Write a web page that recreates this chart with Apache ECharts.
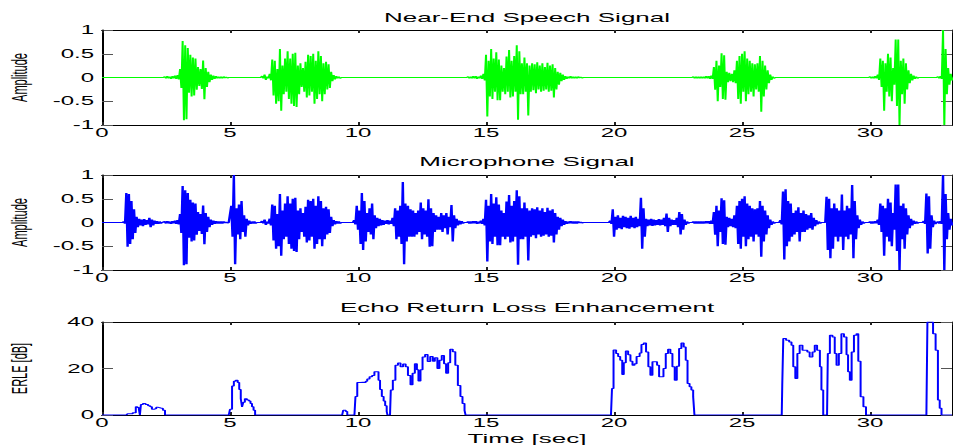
<!DOCTYPE html>
<html>
<head>
<meta charset="utf-8">
<script src="https://cdn.jsdelivr.net/npm/echarts@6/dist/echarts.min.js"></script>
<style>
  html, body { margin: 0; padding: 0; background: #fff; overflow: hidden; }
  /* The figure is laid out at half width and stretched 2x horizontally. */
  #main { width: 476.5px; height: 445px; transform: scaleX(2); transform-origin: 0 0; }
</style>
</head>
<body>
<div id="main"></div>
<script>
// ---- data ---------------------------------------------------------------
const DT = 0.05;           // seconds between successive peak/trough samples
const T_END = 33.2;        // signal length [sec]

const xTicks = [0, 5, 10, 15, 20, 25, 30];
const ampTicks = [-1, -0.5, 0, 0.5, 1];
const erleTicks = [0, 20, 40];

// near-end talker: start time of each utterance, then its samples
const nearStart = [2.45, 6.25, 14.3, 23.1, 30.0, 32.65];
const nearA = [0.02,-0.02, 0.03,-0.02, 0.02,-0.03, 0.03,-0.02, 0.04,-0.03, 0.05,-0.04,
  0.18,-0.22, 0.77,-0.90, 0.68,-0.88, 0.62,-0.32, 0.48,-0.40, 0.42,-0.38, 0.40,-0.26,
  0.22,-0.18, 0.18,-0.24, 0.36,-0.46, 0.20,-0.20, 0.12,-0.10, 0.06,-0.05, 0.04,-0.03,
  0.03,-0.02, 0.02,-0.02, 0.02,-0.02, 0.02,-0.01, 0.01,-0.01];
const nearB = [0.03,-0.02, 0.06,-0.05, 0.02,-0.02, 0.08,-0.06, 0.38,-0.38, 0.35,-0.55,
  0.18,-0.50, 0.60,-0.70, 0.25,-0.35, 0.40,-0.30, 0.55,-0.45, 0.40,-0.55, 0.50,-0.60,
  0.52,-0.62, 0.25,-0.35, 0.30,-0.20, 0.20,-0.30, 0.33,-0.42, 0.48,-0.38, 0.45,-0.30,
  0.50,-0.55, 0.35,-0.45, 0.55,-0.35, 0.45,-0.50, 0.30,-0.35, 0.33,-0.25, 0.28,-0.22,
  0.12,-0.08, 0.05,-0.04, 0.03,-0.02, 0.02,-0.02];
const nearC = [0.02,-0.02, 0.02,-0.02, 0.03,-0.02, 0.03,-0.03, 0.02,-0.02, 0.04,-0.03,
  0.08,-0.06, 0.48,-0.82, 0.35,-0.40, 0.60,-0.45, 0.40,-0.30, 0.53,-0.48, 0.38,-0.48,
  0.25,-0.30, 0.20,-0.35, 0.44,-0.30, 0.58,-0.42, 0.35,-0.40, 0.45,-0.30, 0.68,-0.89,
  0.55,-0.35, 0.30,-0.35, 0.42,-0.30, 0.30,-0.80, 0.25,-0.30, 0.30,-0.27, 0.28,-0.33,
  0.32,-0.25, 0.25,-0.30, 0.30,-0.28, 0.22,-0.25, 0.31,-0.30, 0.25,-0.28, 0.28,-0.42,
  0.20,-0.25, 0.12,-0.15, 0.10,-0.08, 0.06,-0.05, 0.03,-0.03, 0.02,-0.02, 0.03,-0.02,
  0.02,-0.02, 0.02,-0.02, 0.02,-0.01, 0.01,-0.01];
const nearD = [0.02,-0.02, 0.02,-0.02, 0.02,-0.02, 0.02,-0.02, 0.02,-0.02, 0.03,-0.02,
  0.03,-0.03, 0.04,-0.03, 0.22,-0.26, 0.35,-0.50, 0.25,-0.20, 0.51,-0.45, 0.47,-0.47,
  0.12,-0.10, 0.10,-0.08, 0.08,-0.10, 0.15,-0.12, 0.35,-0.45, 0.45,-0.55, 0.50,-0.30,
  0.55,-0.50, 0.40,-0.35, 0.35,-0.30, 0.30,-0.40, 0.28,-0.25, 0.30,-0.30, 0.45,-0.72,
  0.35,-0.40, 0.25,-0.25, 0.15,-0.12, 0.06,-0.05, 0.02,-0.02];
const nearE = [0.02,-0.02, 0.02,-0.02, 0.03,-0.02, 0.06,-0.05, 0.40,-0.20, 0.35,-0.70,
  0.30,-0.30, 0.50,-0.40, 0.42,-0.50, 0.20,-0.15, 0.80,-0.60, 0.80,-1.00, 0.35,-0.35,
  0.40,-0.55, 0.30,-0.25, 0.15,-0.12, 0.08,-0.06, 0.04,-0.03, 0.02,-0.02];
const nearF = [0.02,-0.02, 0.03,-0.03, 1.00,-1.00, 0.60,-0.35, 0.20,-0.15, 0.08,-0.06];

// far-end echo picked up by the microphone
const echoStart = [0.85, 5.05, 9.85, 19.85, 26.5, 28.3, 32.1];
const echo1 = [0.02,-0.02, 0.62,-0.51, 0.60,-0.45, 0.45,-0.35, 0.28,-0.22, 0.12,-0.10,
  0.08,-0.06, 0.06,-0.08, 0.07,-0.05, 0.05,-0.04, 0.10,-0.10, 0.06,-0.06, 0.04,-0.03,
  0.03,-0.03, 0.02,-0.02];
const echo2 = [0.35,-0.30, 1.00,-0.88, 0.30,-0.25, 0.38,-0.35, 0.45,-0.20, 0.15,-0.30,
  0.08,-0.06, 0.04,-0.03, 0.02,-0.02, 0.02,-0.02];
const echo3 = [0.05,-0.04, 0.35,-0.15, 0.25,-0.45, 0.62,-0.58, 0.45,-0.40, 0.20,-0.20,
  0.30,-0.25, 0.40,-0.35, 0.15,-0.12, 0.10,-0.08, 0.08,-0.06, 0.05,-0.05, 0.04,-0.03,
  0.05,-0.04, 0.04,-0.03, 0.10,-0.08, 0.30,-0.35, 0.25,-0.30, 0.35,-0.45, 0.85,-0.88,
  0.40,-0.40, 0.35,-0.30, 0.28,-0.30, 0.25,-0.30, 0.20,-0.25, 0.25,-0.20, 0.42,-0.35,
  0.30,-0.25, 0.25,-0.30, 0.49,-0.51, 0.30,-0.50, 0.20,-0.20, 0.15,-0.15, 0.12,-0.15,
  0.20,-0.20, 0.15,-0.12, 0.20,-0.25, 0.12,-0.10, 0.37,-0.40, 0.15,-0.12, 0.08,-0.06,
  0.04,-0.04, 0.03,-0.02];
const echo4 = [0.04,-0.03, 0.28,-0.30, 0.12,-0.15, 0.15,-0.12, 0.10,-0.14, 0.14,-0.10,
  0.12,-0.12, 0.10,-0.13, 0.14,-0.10, 0.10,-0.12, 0.12,-0.10, 0.08,-0.08, 0.52,-0.55,
  0.30,-0.30, 0.08,-0.08, 0.06,-0.06, 0.08,-0.07, 0.06,-0.06, 0.05,-0.05, 0.07,-0.06,
  0.06,-0.05, 0.10,-0.08, 0.19,-0.20, 0.10,-0.08, 0.06,-0.05, 0.05,-0.05, 0.10,-0.10,
  0.22,-0.25, 0.18,-0.15, 0.06,-0.05, 0.02,-0.02];
const echo5 = [0.05,-0.04, 0.65,-0.78, 0.70,-0.50, 0.45,-0.40, 0.40,-0.30, 0.20,-0.25,
  0.25,-0.20, 0.32,-0.40, 0.20,-0.20, 0.25,-0.20, 0.18,-0.15, 0.15,-0.12, 0.20,-0.15,
  0.10,-0.08, 0.05,-0.04, 0.02,-0.02];
const echo6 = [0.54,-0.58, 0.50,-0.75, 0.30,-0.55, 0.40,-0.30, 0.30,-0.40, 0.25,-0.30,
  0.59,-0.58, 0.25,-0.30, 0.35,-0.35, 0.30,-0.25, 0.79,-0.75, 0.45,-0.35, 0.15,-0.12,
  0.06,-0.05, 0.02,-0.02];
const echo7 = [0.03,-0.03, 0.61,-0.65, 0.55,-0.55, 0.15,-0.10, 0.04,-0.03];

// echo return loss enhancement [sec, dB]
const erle = [
  [0, 0], [0.95, 0], [1.0, 0.5], [1.2, 1], [1.32, 3.6], [1.38, 3.2], [1.44, 2.5], [1.48, 0],
  [1.52, 4.5], [1.6, 5], [1.7, 4.5], [1.8, 4], [1.88, 3.5], [1.95, 2.5], [2.05, 2.8], [2.12, 3.3],
  [2.2, 3], [2.3, 2.8], [2.38, 2], [2.46, 0],
  [4.95, 0], [5.0, 2.5], [5.08, 12.5], [5.15, 14.5], [5.22, 15], [5.3, 14], [5.36, 11], [5.42, 7],
  [5.47, 3.5], [5.52, 5.5], [5.58, 7], [5.66, 6.5], [5.74, 6], [5.8, 5], [5.86, 3.6], [5.92, 2],
  [5.98, 0],
  [9.38, 0], [9.42, 2], [9.52, 1.5], [9.58, 0], [9.86, 0], [9.9, 8], [9.97, 14], [10.08, 14.1],
  [10.2, 14], [10.3, 14.5], [10.36, 15.5], [10.45, 16.5], [10.55, 17], [10.64, 18.6], [10.74, 18.6],
  [10.8, 15], [10.86, 11], [10.93, 8], [11.0, 6], [11.06, 4], [11.12, 1.5], [11.15, 0], [11.25, 0],
  [11.28, 10.7], [11.36, 15], [11.46, 21.4], [11.56, 22.4], [11.66, 20.7], [11.76, 21.9],
  [11.86, 20.7], [11.95, 17], [12.05, 13], [12.13, 18], [12.22, 22], [12.3, 19.5], [12.36, 14.6],
  [12.44, 19.5], [12.52, 25], [12.62, 26], [12.72, 23], [12.82, 25.2], [12.92, 23.1], [13.0, 24.6],
  [13.1, 20], [13.18, 23.6], [13.27, 25.6], [13.36, 22], [13.44, 18], [13.52, 22.5], [13.6, 28.3],
  [13.7, 27.2], [13.8, 21.4], [13.9, 12.7], [14.0, 8], [14.08, 5], [14.16, 2], [14.2, 0],
  [19.88, 0], [19.92, 11.4], [19.98, 28], [20.08, 26.4], [20.16, 25.2], [20.24, 23.6], [20.32, 17.4],
  [20.38, 22.5], [20.46, 27.5], [20.55, 25.9], [20.64, 23.1], [20.72, 21.4], [20.8, 22], [20.88, 25.2],
  [21.0, 26.7], [21.07, 30.3], [21.16, 31], [21.25, 27.1], [21.34, 20.7], [21.42, 17.1], [21.5, 22.9],
  [21.6, 22.9], [21.68, 21.4], [21.76, 16.4], [21.85, 16.4], [21.93, 20], [22.02, 26.4], [22.11, 28.3],
  [22.2, 26.4], [22.28, 20.7], [22.37, 15], [22.45, 21], [22.54, 28.6], [22.63, 31], [22.72, 29.3],
  [22.8, 23.6], [22.87, 13.6], [22.95, 12.1], [23.02, 10.7], [23.09, 7.9], [23.14, 0],
  [26.55, 0], [26.57, 12.9], [26.61, 32.9], [26.72, 32.1], [26.84, 31.4], [26.93, 30], [27.0, 20.7],
  [27.08, 15.7], [27.16, 26.4], [27.25, 30], [27.36, 27.9], [27.45, 27.9], [27.55, 27.1], [27.64, 25],
  [27.75, 27.1], [27.84, 30], [27.93, 27.9], [28.04, 20.7], [28.1, 10.7], [28.17, 0], [28.32, 0],
  [28.35, 26.4], [28.43, 34.3], [28.53, 33.6], [28.62, 26.4], [28.69, 21.4], [28.78, 26.4], [28.88, 35],
  [28.98, 33.6], [29.08, 25.9], [29.14, 18.6], [29.21, 15], [29.28, 27.1], [29.37, 34.3], [29.47, 35],
  [29.54, 23.1], [29.63, 7.9], [29.74, 3.6], [29.84, 0],
  [32.2, 0], [32.24, 40], [32.4, 40], [32.46, 35], [32.56, 27.9], [32.65, 6.4], [32.72, 2.9],
  [32.79, 0], [33.2, 0]
];

// ---- sample assembly ------------------------------------------------------
function burst(t0, vals) {
  const pts = [[t0 - DT, 0]];
  vals.forEach((v, i) => pts.push([+(t0 + i * DT).toFixed(3), v]));
  pts.push([+(t0 + vals.length * DT).toFixed(3), 0]);
  return pts;
}
function signal(parts) {
  parts.sort((a, b) => a[0] - b[0]);
  let pts = [[0, 0]];
  parts.forEach(p => { pts = pts.concat(burst(p[0], p[1])); });
  pts.push([T_END, 0]);
  return pts;
}
const nearBursts = [nearA, nearB, nearC, nearD, nearE, nearF].map((v, i) => [nearStart[i], v]);
const echoBursts = [echo1, echo2, echo3, echo4, echo5, echo6, echo7].map((v, i) => [echoStart[i], v]);
const nearEnd = signal(nearBursts.slice());
const microphone = signal(nearBursts.concat(echoBursts));

// ---- chart ----------------------------------------------------------------
const FONT = '"Liberation Sans", Arial, Helvetica, sans-serif';
const grids = [
  { left: 51, width: 425, top: 30, height: 95, outerBoundsMode: 'none', containLabel: false },
  { left: 51, width: 425, top: 175, height: 95, outerBoundsMode: 'none', containLabel: false },
  { left: 51, width: 425, top: 322, height: 93, outerBoundsMode: 'none', containLabel: false }
];
const titles = ['Near-End Speech Signal', 'Microphone Signal', 'Echo Return Loss Enhancement'];
const titleTops = [11, 155, 301];

function xAxes(g) {
  const common = {
    type: 'value', gridIndex: g, min: 0, max: T_END, interval: xTicks[1] - xTicks[0],
    axisLine: { show: true, onZero: false, lineStyle: { color: '#000', width: 1 } },
    axisTick: { show: true, inside: true, length: 3, lineStyle: { color: '#222', width: 1 } },
    splitLine: { show: false }
  };
  const bottom = Object.assign({}, common, {
    position: 'bottom',
    axisLabel: { show: true, margin: 2, showMaxLabel: false, color: '#000', fontSize: 12, fontFamily: FONT,
      formatter: v => (xTicks.indexOf(v) >= 0 ? String(v) : '') }
  });
  if (g === 2) {
    Object.assign(bottom, { name: 'Time [sec]', nameLocation: 'middle', nameGap: 17,
      nameTextStyle: { color: '#000', fontSize: 13, fontFamily: FONT } });
  }
  const top = Object.assign({}, common, { position: 'top', axisLabel: { show: false } });
  return [bottom, top];
}
function yAxes(g, ticks, name) {
  const common = {
    type: 'value', gridIndex: g, min: ticks[0], max: ticks[ticks.length - 1], interval: ticks[1] - ticks[0],
    axisLine: { show: true, onZero: false, lineStyle: { color: '#000', width: 1 } },
    axisTick: { show: true, inside: true, length: 5.5, lineStyle: { color: '#555', width: 1 } },
    splitLine: { show: false }
  };
  const left = Object.assign({}, common, {
    position: 'left', name: name, nameLocation: 'middle', nameRotate: 90, nameGap: 36,
    nameTextStyle: { color: '#000', fontSize: 11, fontFamily: FONT },
    axisLabel: { show: true, margin: 4, color: '#000', fontSize: 12, fontFamily: FONT }
  });
  const right = Object.assign({}, common, { position: 'right', axisLabel: { show: false } });
  return [left, right];
}

const chart = echarts.init(document.getElementById('main'), null, { renderer: 'svg' });
chart.setOption({
  animation: false,
  backgroundColor: '#fff',
  title: titles.map((t, i) => ({
    text: t, left: 263.5, top: titleTops[i], textAlign: 'center', padding: 0,
    textStyle: { color: '#000', fontSize: 13, fontWeight: 'normal', fontFamily: FONT }
  })),
  grid: grids,
  xAxis: [].concat(xAxes(0), xAxes(1), xAxes(2)),
  yAxis: [].concat(yAxes(0, ampTicks, 'Amplitude'), yAxes(1, ampTicks, 'Amplitude'), yAxes(2, erleTicks, 'ERLE [dB]')),
  series: [
    { type: 'line', xAxisIndex: 0, yAxisIndex: 0, data: nearEnd, showSymbol: false, symbol: 'none',
      lineStyle: { color: '#00ff00', width: 1 }, itemStyle: { color: '#00ff00' } },
    { type: 'line', xAxisIndex: 2, yAxisIndex: 2, data: microphone, showSymbol: false, symbol: 'none',
      lineStyle: { color: '#0000ff', width: 1.2 }, itemStyle: { color: '#0000ff' } },
    { type: 'line', xAxisIndex: 4, yAxisIndex: 4, data: erle, step: 'end', showSymbol: false, symbol: 'none',
      lineStyle: { color: '#0000ff', width: 1 }, itemStyle: { color: '#0000ff' } }
  ]
});
</script>
</body>
</html>
